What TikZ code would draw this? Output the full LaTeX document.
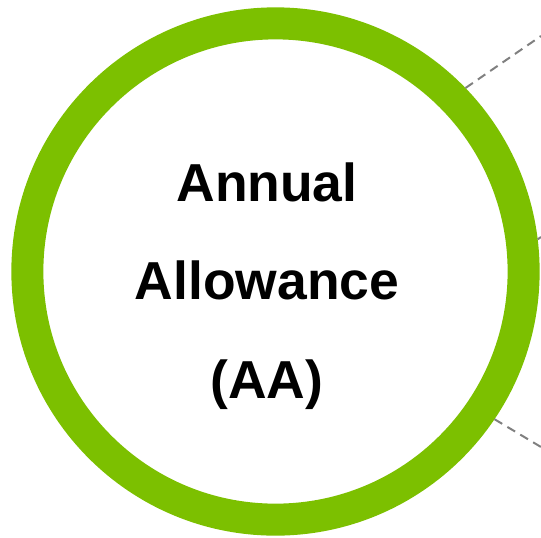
\documentclass[tikz,border=0pt]{standalone}
\usepackage{fontspec}
\setmainfont{Liberation Sans}
\definecolor{ringgreen}{RGB}{124,192,0}
\definecolor{leadgray}{RGB}{128,128,128}
\tikzset{
  ring/.style={draw=ringgreen, circle, line width=0.32cm, minimum size=4.96cm, inner sep=0pt, fill=white},
  lead/.style={draw=leadgray, line width=0.02cm, dash pattern=on 0.09cm off 0.06cm},
  title/.style={align=center, font=\bfseries\fontsize{15.2}{28}\selectfont}
}
\begin{document}
\begin{tikzpicture}[x=0.01cm, y=-0.01cm]
	\useasboundingbox (0,0) rectangle (541,538);
	\node[ring] (aa)at(275.5, 271.5) {};
	\node[title] (label)at(267, 286) {Annual\\Allowance\\(AA)};
	\coordinate (t1)at(541, 36);
	\coordinate (t2)at(541, 237);
	\coordinate (t3)at(541, 447);
	\draw[lead] (aa.44.5) -- (t1);
	\draw[lead] (aa.7.6) -- (t2);
	\draw[lead] (aa.-34.7) -- (t3);
\end{tikzpicture}
\end{document}
